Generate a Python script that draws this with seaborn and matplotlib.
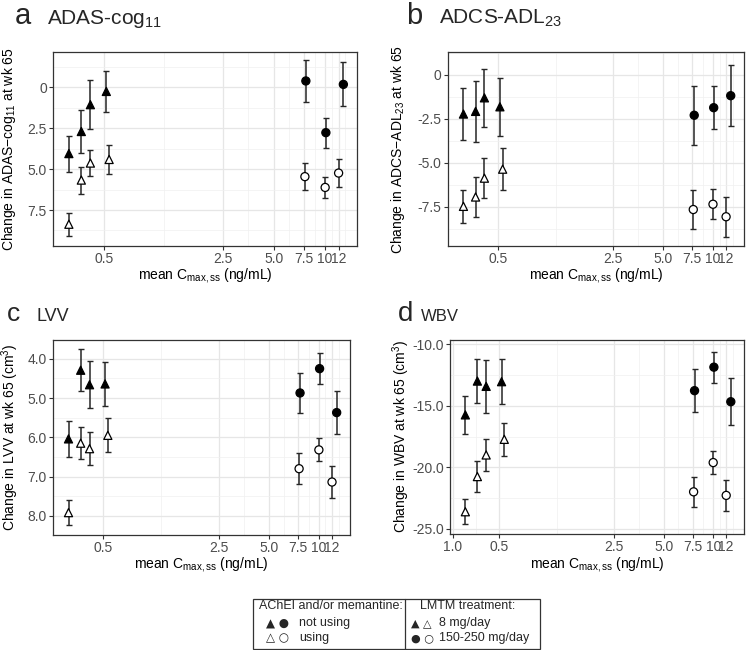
import numpy as np
import pandas as pd
import matplotlib
matplotlib.use("Agg")
import matplotlib.pyplot as plt
import seaborn as sns
from matplotlib.ticker import FixedLocator, FixedFormatter, NullFormatter
from matplotlib.patches import Rectangle
from matplotlib.lines import Line2D

sns.set_theme(style="white")
plt.rcParams["font.family"] = ["Liberation Sans", "DejaVu Sans"]
plt.rcParams["mathtext.default"] = "regular"

# ---------------- data ----------------
x_tri_fill = [0.31, 0.367, 0.415, 0.515]
x_tri_open = [0.31, 0.367, 0.415, 0.535]
x_circ_fill = [7.7, 10.1, 12.8]
x_circ_open = [7.6, 10.0, 12.0]

x_ticks = [0.5, 2.5, 5.0, 7.5, 10, 12]
x_tick_labels = ["0.5", "2.5", "5.0", "7.5", "10", "12"]
x_ticks_d = [0.26, 0.5, 2.5, 5.0, 7.5, 10, 12]
x_tick_labels_d = ["1.0", "0.5", "2.5", "5.0", "7.5", "10", "12"]

# panel a: ADAS-cog11
adas_tri_fill = [4.05, 2.70, 1.06, 0.25]
adas_tri_fill_err = [1.10, 1.30, 1.48, 1.25]
adas_tri_open = [8.37, 5.67, 4.63, 4.41]
adas_tri_open_err = [0.69, 0.83, 0.81, 0.87]
adas_circ_fill = [-0.39, 2.77, -0.18]
adas_circ_fill_err = [1.28, 0.92, 1.35]
adas_circ_open = [5.46, 6.12, 5.24]
adas_circ_open_err = [0.83, 0.62, 0.84]
adas_yticks = [0, 2.5, 5.0, 7.5]
adas_ytick_labels = ["0", "2.5", "5.0", "7.5"]

# panel b: ADCS-ADL23
adl_tri_fill = [-2.24, -2.09, -1.32, -1.83]
adl_tri_fill_err = [1.45, 1.71, 1.66, 1.65]
adl_tri_open = [-7.48, -6.95, -5.88, -5.37]
adl_tri_open_err = [0.94, 1.15, 1.12, 1.21]
adl_circ_fill = [-2.31, -1.88, -1.20]
adl_circ_fill_err = [1.66, 1.23, 1.73]
adl_circ_open = [-7.66, -7.36, -8.07]
adl_circ_open_err = [1.10, 0.84, 1.13]
adl_yticks = [0, -2.5, -5.0, -7.5]
adl_ytick_labels = ["0", "-2.5", "-5.0", "-7.5"]

# panel c: LVV
lvv_tri_fill = [6.04, 4.29, 4.66, 4.64]
lvv_tri_fill_err = [0.46, 0.54, 0.60, 0.55]
lvv_tri_open = [7.92, 6.15, 6.29, 5.95]
lvv_tri_open_err = [0.32, 0.41, 0.42, 0.43]
lvv_circ_fill = [4.87, 4.25, 5.37]
lvv_circ_fill_err = [0.52, 0.40, 0.55]
lvv_circ_open = [6.80, 6.32, 7.14]
lvv_circ_open_err = [0.39, 0.29, 0.40]
lvv_yticks = [4.0, 5.0, 6.0, 7.0, 8.0]
lvv_ytick_labels = ["4.0", "5.0", "6.0", "7.0", "8.0"]

# panel d: WBV
wbv_tri_fill = [-15.74, -12.99, -13.42, -13.04]
wbv_tri_fill_err = [1.56, 1.82, 2.14, 1.84]
wbv_tri_open = [-23.62, -20.76, -19.00, -17.73]
wbv_tri_open_err = [1.00, 1.28, 1.31, 1.36]
wbv_circ_fill = [-13.77, -11.86, -14.67]
wbv_circ_fill_err = [1.74, 1.26, 1.90]
wbv_circ_open = [-22.00, -19.62, -22.29]
wbv_circ_open_err = [1.23, 0.94, 1.27]
wbv_yticks = [-10.0, -15.0, -20.0, -25.0]
wbv_ytick_labels = ["-10.0", "-15.0", "-20.0", "-25.0"]

W, H = 748, 650
fig = plt.figure(figsize=(W / 100, H / 100), dpi=100)


def rect(l, t, r, b):
    return [l / W, 1 - b / H, (r - l) / W, (b - t) / H]


def frame(tf, tfe, to, toe, cf, cfe, co, coe):
    parts = [
        pd.DataFrame({"x": x_tri_fill, "y": tf, "err": tfe, "dose": "8", "use": "not"}),
        pd.DataFrame({"x": x_tri_open, "y": to, "err": toe, "dose": "8", "use": "using"}),
        pd.DataFrame({"x": x_circ_fill, "y": cf, "err": cfe, "dose": "hi", "use": "not"}),
        pd.DataFrame({"x": x_circ_open, "y": co, "err": coe, "dose": "hi", "use": "using"}),
    ]
    return pd.concat(parts, ignore_index=True)


def mids(vals):
    v = np.asarray(vals, dtype=float)
    d = np.diff(v)
    m = list(v[:-1] + d / 2)
    return [v[0] - d[0] / 2] + m + [v[-1] + d[-1] / 2]


def panel(pos, df, ylim, yticks, ylabels, ylabel, xt, xtl, lab_x):
    ax = fig.add_axes(rect(*pos))
    ax.set_xscale("log")
    ax.errorbar(df["x"], df["y"], yerr=df["err"], fmt="none",
                ecolor="#262626", elinewidth=1.1, capsize=2.2, capthick=1.0, zorder=2)
    sns.scatterplot(data=df, x="x", y="y", hue="use", style="dose",
                    markers={"8": "^", "hi": "o"},
                    palette={"not": "black", "using": "white"},
                    edgecolor="black", linewidth=0.9, s=34, legend=False,
                    ax=ax, zorder=3)
    ax.set_xlim(0.25, 15.4)
    ax.set_ylim(*ylim)
    # x ticks
    ax.xaxis.set_major_locator(FixedLocator(xt))
    ax.xaxis.set_major_formatter(FixedFormatter(xtl))
    lx = np.log(xt)
    xminor = list(np.exp(lx[:-1] + np.diff(lx) / 2)) + [np.exp(lx[-1] + (lx[-1] - lx[-2]) / 2)]
    ax.xaxis.set_minor_locator(FixedLocator(xminor))
    ax.xaxis.set_minor_formatter(NullFormatter())
    # y ticks
    ax.yaxis.set_major_locator(FixedLocator(yticks))
    ax.yaxis.set_major_formatter(FixedFormatter(ylabels))
    ax.yaxis.set_minor_locator(FixedLocator(mids(sorted(yticks))))
    ax.grid(True, which="major", color="#e6e6e6", lw=0.9)
    ax.grid(True, which="minor", color="#f0f0f0", lw=0.5)
    ax.set_axisbelow(True)
    ax.tick_params(which="major", length=3, width=0.8, color="#333333",
                   labelcolor="#4d4d4d", labelsize=10, pad=1.5,
                   bottom=True, left=True)
    ax.tick_params(which="minor", length=0)
    for s in ax.spines.values():
        s.set_color("#333333")
        s.set_linewidth(0.9)
    ax.set_xlabel("mean C$_{max,ss}$ (ng/mL)", fontsize=10, color="black")
    ax.xaxis.set_label_coords(0.5, -30 / (pos[3] - pos[1]))
    ax.xaxis.label.set_va("center")
    ax.set_ylabel(ylabel, fontsize=10, color="black")
    ax.yaxis.set_label_coords((lab_x - pos[0]) / (pos[2] - pos[0]), 0.5)
    ax.yaxis.label.set_va("center")
    return ax


df_a = frame(adas_tri_fill, adas_tri_fill_err, adas_tri_open, adas_tri_open_err,
             adas_circ_fill, adas_circ_fill_err, adas_circ_open, adas_circ_open_err)
df_b = frame(adl_tri_fill, adl_tri_fill_err, adl_tri_open, adl_tri_open_err,
             adl_circ_fill, adl_circ_fill_err, adl_circ_open, adl_circ_open_err)
df_c = frame(lvv_tri_fill, lvv_tri_fill_err, lvv_tri_open, lvv_tri_open_err,
             lvv_circ_fill, lvv_circ_fill_err, lvv_circ_open, lvv_circ_open_err)
df_d = frame(wbv_tri_fill, wbv_tri_fill_err, wbv_tri_open, wbv_tri_open_err,
             wbv_circ_fill, wbv_circ_fill_err, wbv_circ_open, wbv_circ_open_err)

panel((53, 52, 357, 246), df_a, (9.70, -2.16), adas_yticks, adas_ytick_labels,
      "Change in ADAS$-$cog$_{11}$ at wk 65", x_ticks, x_tick_labels, 9)
panel((448, 52, 744, 246), df_b, (-9.73, 1.28), adl_yticks, adl_ytick_labels,
      "Change in ADCS$-$ADL$_{23}$ at wk 65", x_ticks, x_tick_labels, 398)
panel((53, 340, 350, 535), df_c, (8.49, 3.52), lvv_yticks, lvv_ytick_labels,
      "Change in LVV at wk 65 (cm$^{3}$)", x_ticks, x_tick_labels, 10)
panel((450, 340, 744, 534), df_d, (-25.43, -9.65), wbv_yticks, wbv_ytick_labels,
      "Change in WBV at wk 65 (cm$^{3}$)", x_ticks_d, x_tick_labels_d, 401)


def ftext(x, y, s, **kw):
    fig.text(x / W, 1 - y / H, s, **kw)


ftext(15, 24, "a", fontsize=21, va="baseline")
ftext(47, 24, "ADAS-cog$_{11}$", fontsize=15, va="baseline")
ftext(406, 24, "b", fontsize=21, va="baseline")
ftext(439, 24, "ADCS-ADL$_{23}$", fontsize=15, va="baseline")
ftext(7, 321, "c", fontsize=19, va="baseline")
ftext(36, 321, "LVV", fontsize=13, va="baseline")
ftext(398, 321, "d", fontsize=20, va="baseline")
ftext(421, 321, "WBV", fontsize=12, va="baseline")

# legend box
fig.add_artist(Rectangle((253 / W, 1 - 649 / H), (540 - 253) / W, (649 - 599) / H,
                         transform=fig.transFigure, fill=False, ec="#333333", lw=0.9))
fig.add_artist(Line2D([405 / W, 405 / W], [1 - 649 / H, 1 - 599 / H],
                      transform=fig.transFigure, color="#333333", lw=0.9))
lfs = 9
sym = ["DejaVu Sans"]
ftext(259, 606, "AChEI and/or memantine:", fontsize=lfs, va="center")
ftext(266, 623, "\u25B2 \u25CF", fontsize=8.5, va="center", family=sym)
ftext(299, 623, "not using", fontsize=lfs, va="center")
ftext(266, 638, "\u25B3 \u25CB", fontsize=8.5, va="center", family=sym)
ftext(299, 638, "using", fontsize=lfs, va="center")
ftext(420, 606, "LMTM treatment:", fontsize=lfs, va="center")
ftext(411, 623, "\u25B2 \u25B3", fontsize=8, va="center", family=sym)
ftext(439, 623, "8 mg/day", fontsize=lfs, va="center")
ftext(411, 638, "\u25CF \u25CB", fontsize=8, va="center", family=sym)
ftext(439, 638, "150-250 mg/day", fontsize=lfs, va="center")

fig.savefig("out.png", dpi=100)
